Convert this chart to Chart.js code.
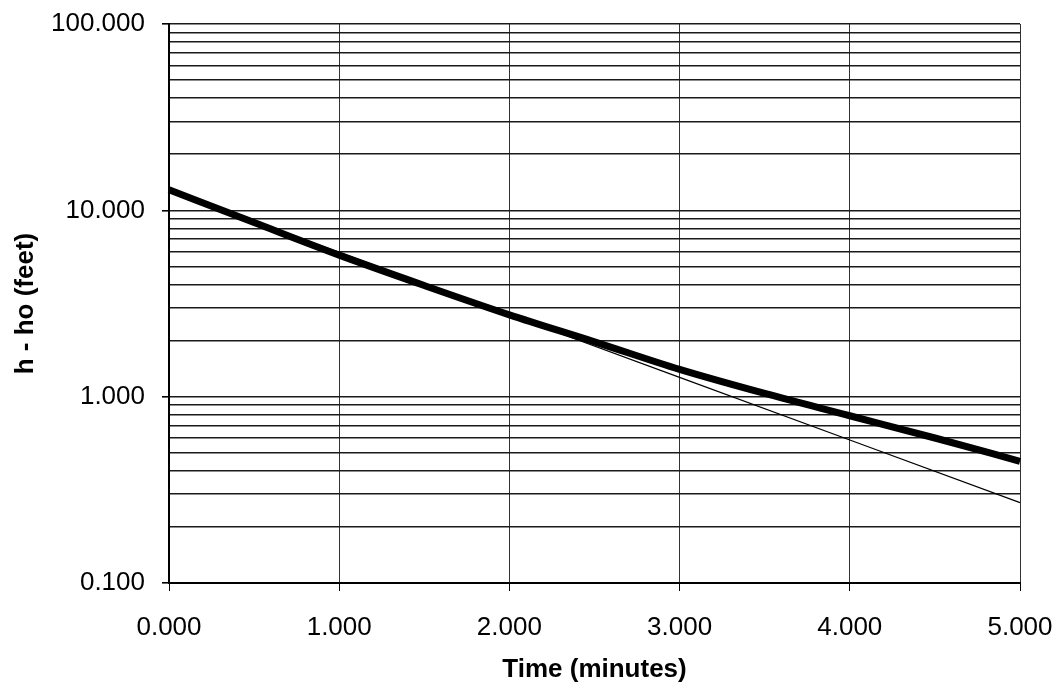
<!DOCTYPE html>
<html>
<head>
<meta charset="utf-8">
<script src="https://cdn.jsdelivr.net/npm/chart.js@4.4.1/dist/chart.umd.min.js"></script>
<style>
  html, body { margin: 0; padding: 0; background: #ffffff; }
  #wrap { width: 1056px; height: 683px; position: relative; }
</style>
</head>
<body>
<div id="wrap"><canvas id="c" width="1056" height="683"></canvas></div>
<script>
// ---- data ----
const timeMinutes = [0, 0.5, 1, 1.5, 2, 2.5, 3, 3.5, 4, 4.5, 5];
const headCurve   = [12.9, 8.6, 5.75, 3.95, 2.75, 1.97, 1.40, 1.04, 0.79, 0.60, 0.45];
const lineTimes   = [0, 1, 2, 3, 4, 5];
const headLine    = [12.9, 5.96, 2.75, 1.27, 0.585, 0.27];
const yMajorTicks = [0.1, 1, 10, 100];
const xTicks      = [0, 1, 2, 3, 4, 5];
const xTitle = 'Time (minutes)';
const yTitle = 'h - ho (feet)';

// all log grid positions (1..9 x each decade)
const yGridValues = [];
for (let d = 0; d < yMajorTicks.length - 1; d++) {
  for (let m = 1; m <= 9; m++) yGridValues.push(yMajorTicks[d] * m);
}
yGridValues.push(yMajorTicks[yMajorTicks.length - 1]);

const isMajor = v => yMajorTicks.some(m => Math.abs(m - v) < 1e-9);
const FONT = '"Liberation Sans", Arial, Helvetica, sans-serif';
const noPad = s => { s.paddingTop = 0; s.paddingBottom = 0; s.paddingLeft = 0; s.paddingRight = 0; };

new Chart(document.getElementById('c'), {
  type: 'line',
  data: {
    datasets: [
      {
        label: 'line',
        data: lineTimes.map((t, i) => ({ x: t, y: headLine[i] })),
        borderColor: '#000',
        borderWidth: 1.2,
        pointRadius: 0,
        tension: 0,
        clip: 6
      },
      {
        label: 'curve',
        data: timeMinutes.map((t, i) => ({ x: t, y: headCurve[i] })),
        borderColor: '#000',
        borderWidth: 7,
        pointRadius: 0,
        cubicInterpolationMode: 'monotone',
        clip: 6
      }
    ]
  },
  options: {
    responsive: false,
    animation: false,
    events: [],
    layout: { padding: { top: 24, right: 36, left: 0, bottom: 0 } },
    plugins: { legend: { display: false }, tooltip: { enabled: false } },
    scales: {
      x: {
        type: 'linear',
        min: 0, max: 5,
        afterBuildTicks: s => { s.ticks = xTicks.map(v => ({ value: v })); },
        afterFit: s => { s.height = 100; noPad(s); },
        border: { display: true, color: '#000', width: 2 },
        grid: { color: '#333', lineWidth: 1, tickLength: 8, tickColor: '#000' },
        ticks: {
          autoSkip: false, maxRotation: 0, color: '#000', padding: 21,
          font: { family: FONT, size: 26 },
          callback: v => Number(v).toFixed(3)
        },
        title: {
          display: true, text: xTitle, color: '#000',
          font: { family: FONT, size: 26, weight: 'bold' },
          padding: { top: 0, bottom: -2 }
        }
      },
      y: {
        type: 'logarithmic',
        min: 0.1, max: 100,
        afterBuildTicks: s => { s.ticks = yGridValues.map(v => ({ value: v })); },
        afterFit: s => { s.width = 169; noPad(s); },
        border: { display: true, color: '#000', width: 2 },
        grid: {
          color: '#1a1a1a', lineWidth: 1.6, tickLength: 7,
          tickColor: ctx => (ctx.tick && isMajor(ctx.tick.value)) ? '#000' : 'rgba(0,0,0,0)'
        },
        ticks: {
          autoSkip: false, color: '#000', padding: 17,
          font: { family: FONT, size: 26 },
          callback: v => isMajor(v) ? Number(v).toFixed(3) : ''
        },
        title: {
          display: true, text: yTitle, color: '#000',
          font: { family: FONT, size: 26, weight: 'bold' },
          padding: { top: 10, bottom: 0 }
        }
      }
    }
  }
});
</script>
</body>
</html>
